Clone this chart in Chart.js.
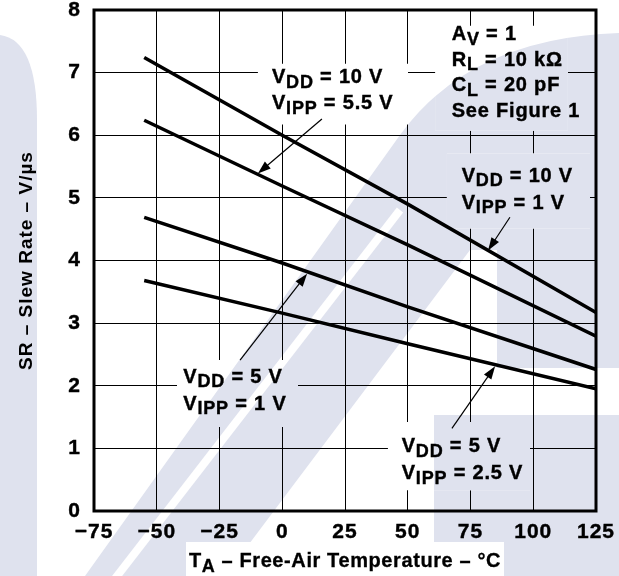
<!DOCTYPE html>
<html>
<head>
<meta charset="utf-8">
<script src="https://cdn.jsdelivr.net/npm/chart.js@4.4.1/dist/chart.umd.min.js"></script>
<style>
  html, body { margin: 0; padding: 0; background: #fff; }
  canvas { display: block; }
</style>
</head>
<body>
<canvas id="slewChart" width="619" height="576"></canvas>
<script>
// free-air temperature, degC
const temps = [-55, 0, 50, 125];
// slew rate, V/us, one array per test condition
const vdd10Vipp1 = [7.24, 6.00, 4.90, 3.17];
const vdd10Vipp55 = [6.24, 5.19, 4.25, 2.79];
const vdd5Vipp1 = [4.69, 3.96, 3.26, 2.26];
const vdd5Vipp25 = [3.68, 3.16, 2.67, 1.95];

const xTicks = [-75, -50, -25, 0, 25, 50, 75, 100, 125];
const yTicks = [0, 1, 2, 3, 4, 5, 6, 7, 8];

const FONT = 'Arial, "Liberation Sans", Helvetica, sans-serif';
const WASH = '#dfe2ee';

// callouts, placed in data units (temperature, slew rate)
const callouts = [
  { at: [-4.1, 6.83], box: [-9.7, 7.14, 50.1, 6.17], gap: 26,
    lines: [[['V'], ['DD', 1], [' = 10 V']], [['V'], ['IPP', 1], [' = 5.5 V']]],
    arrow: [15.8, 6.26, -9.7, 5.39] },
  { at: [67.5, 7.52], box: [60.9, 7.75, 113.8, 6.07], gap: 25.5,
    lines: [[['A'], ['V', 1], [' = 1']], [['R'], ['L', 1], [' = 10 kΩ']],
            [['C'], ['L', 1], [' = 20 pF']], [['See Figure 1']]] },
  { at: [71.5, 5.26], box: [65.6, 5.71, 122.6, 4.51], gap: 27,
    lines: [[['V'], ['DD', 1], [' = 10 V']], [['V'], ['IPP', 1], [' = 1 V']]],
    arrow: [90.7, 4.69, 82.0, 4.16] },
  { at: [-39.4, 2.05], box: [-41.9, 2.41, 6.3, 1.34], gap: 27,
    lines: [[['V'], ['DD', 1], [' = 5 V']], [['V'], ['IPP', 1], [' = 1 V']]],
    arrow: [-16.8, 2.41, 9.9, 3.79] },
  { at: [47.6, 0.935], box: [42.1, 1.42, 98.7, 0.33], gap: 27,
    lines: [[['V'], ['DD', 1], [' = 5 V']], [['V'], ['IPP', 1], [' = 2.5 V']]],
    arrow: [67.6, 1.32, 84.8, 2.31] }
];

function paintBackdrop(ctx) {
  ctx.save();
  ctx.fillStyle = '#fff';
  ctx.fillRect(0, 0, 619, 576);
  ctx.fillStyle = WASH;
  ctx.beginPath();
  ctx.moveTo(0, 576);
  ctx.lineTo(0, 35);
  ctx.quadraticCurveTo(37, 40, 37, 120);
  ctx.lineTo(37, 576);
  ctx.closePath();
  ctx.fill();
  ctx.beginPath();
  ctx.moveTo(85, 576);
  ctx.lineTo(400, 135);
  ctx.quadraticCurveTo(470, 38, 619, 33);
  ctx.lineTo(619, 368);
  ctx.lineTo(497, 368);
  ctx.lineTo(497, 250);
  ctx.lineTo(470, 250);
  ctx.lineTo(225, 576);
  ctx.closePath();
  ctx.fill();
  ctx.fillRect(434, 415, 185, 161);
  ctx.strokeStyle = '#fff';
  ctx.lineWidth = 8;
  ctx.beginPath();
  ctx.moveTo(114, 580);
  ctx.lineTo(400, 210);
  ctx.stroke();
  ctx.fillStyle = '#fff';
  ctx.fillRect(186, 542, 318, 34);
  ctx.restore();
}

function drawRich(ctx, runs, x, y, big, small, drop) {
  let cx = x;
  runs.forEach(([text, sub]) => {
    ctx.font = 'bold ' + (sub ? small : big) + 'px ' + FONT;
    ctx.fillText(text, cx, sub ? y + drop : y);
    ctx.strokeText(text, cx, sub ? y + drop : y);
    cx += ctx.measureText(text).width;
  });
  return cx - x;
}

function drawArrow(ctx, x0, y0, x1, y1) {
  const a = Math.atan2(y1 - y0, x1 - x0);
  const c = Math.cos(a), s = Math.sin(a);
  const len = 13, half = 4.5;
  ctx.lineWidth = 1.2;
  ctx.beginPath();
  ctx.moveTo(x0, y0);
  ctx.lineTo(x1 - c * len * 0.8, y1 - s * len * 0.8);
  ctx.stroke();
  ctx.beginPath();
  ctx.moveTo(x1, y1);
  ctx.lineTo(x1 - c * len + s * half, y1 - s * len - c * half);
  ctx.lineTo(x1 - c * len - s * half, y1 - s * len + c * half);
  ctx.closePath();
  ctx.fill();
}

const decor = {
  id: 'decor',
  beforeDraw(chart) {
    paintBackdrop(chart.ctx);
    // the original lettering runs wide
    chart.ctx.letterSpacing = '1px';
  },
  beforeDatasetsDraw(chart) {
    // open the grid behind each callout
    const { ctx, scales: { x, y } } = chart;
    callouts.forEach(c => {
      const x0 = x.getPixelForValue(c.box[0]), y0 = y.getPixelForValue(c.box[1]);
      const x1 = x.getPixelForValue(c.box[2]), y1 = y.getPixelForValue(c.box[3]);
      ctx.save();
      ctx.beginPath();
      ctx.rect(x0, y0, x1 - x0, y1 - y0);
      ctx.clip();
      paintBackdrop(ctx);
      ctx.restore();
    });
  },
  afterDatasetsDraw(chart) {
    const { ctx, chartArea: area, scales: { x, y } } = chart;
    ctx.save();
    ctx.strokeStyle = '#000';
    ctx.fillStyle = '#000';
    ctx.lineWidth = 3;
    ctx.strokeRect(area.left, area.top, area.right - area.left, area.bottom - area.top);

    ctx.letterSpacing = '0.8px';
    ctx.textBaseline = 'alphabetic';
    ctx.textAlign = 'left';
    callouts.forEach(c => {
      const tx = x.getPixelForValue(c.at[0]);
      const ty = y.getPixelForValue(c.at[1]);
      ctx.lineWidth = 0.4;
      c.lines.forEach((runs, i) => drawRich(ctx, runs, tx, ty + i * c.gap, 20, 18, 4.5));
      if (c.arrow) {
        drawArrow(ctx,
          x.getPixelForValue(c.arrow[0]), y.getPixelForValue(c.arrow[1]),
          x.getPixelForValue(c.arrow[2]), y.getPixelForValue(c.arrow[3]));
      }
    });

    // x axis title with subscript
    ctx.letterSpacing = '0.6px';
    ctx.lineWidth = 0.3;
    const runs = [['T'], ['A', 1], [' – Free-Air Temperature – °C']];
    ctx.globalAlpha = 0;
    const w = drawRich(ctx, runs, 0, -50, 20, 18, 5);
    ctx.globalAlpha = 1;
    drawRich(ctx, runs, (area.left + area.right) / 2 - w / 2, 567, 20, 18, 5);
    ctx.restore();
  }
};

const lineStyle = { borderColor: '#000', borderWidth: 3.5, pointRadius: 0, tension: 0, fill: false, showLine: true };
const toPoints = vals => temps.map((t, i) => ({ x: t, y: vals[i] }));

new Chart(document.getElementById('slewChart'), {
  type: 'scatter',
  data: {
    datasets: [
      { label: 'VDD = 10 V, VIPP = 1 V', data: toPoints(vdd10Vipp1), ...lineStyle },
      { label: 'VDD = 10 V, VIPP = 5.5 V', data: toPoints(vdd10Vipp55), ...lineStyle },
      { label: 'VDD = 5 V, VIPP = 1 V', data: toPoints(vdd5Vipp1), ...lineStyle },
      { label: 'VDD = 5 V, VIPP = 2.5 V', data: toPoints(vdd5Vipp25), ...lineStyle }
    ]
  },
  options: {
    responsive: false,
    animation: false,
    layout: { padding: { left: 0, top: 10, right: 23, bottom: 0 } },
    plugins: { legend: { display: false }, tooltip: { enabled: false } },
    scales: {
      x: {
        type: 'linear',
        min: xTicks[0],
        max: xTicks[xTicks.length - 1],
        afterBuildTicks: s => { s.ticks = xTicks.map(v => ({ value: v })); },
        afterFit: s => { s.height = 65; s.paddingLeft = 0; s.paddingRight = 0; },
        grid: { color: '#000', lineWidth: 1, drawTicks: false },
        border: { display: false },
        ticks: {
          padding: 9,
          color: '#000',
          textStrokeColor: '#000',
          textStrokeWidth: 0.4,
          font: { family: FONT, size: 21, weight: 'bold' },
          callback: v => (v < 0 ? '−' + Math.abs(v) : String(v))
        }
      },
      y: {
        type: 'linear',
        min: yTicks[0],
        max: yTicks[yTicks.length - 1],
        afterBuildTicks: s => { s.ticks = yTicks.map(v => ({ value: v })); },
        afterFit: s => { s.width = 94; s.paddingTop = 0; s.paddingBottom = 0; },
        grid: { color: '#000', lineWidth: 1, drawTicks: false },
        border: { display: false },
        title: {
          display: true,
          text: 'SR – Slew Rate – V/µs',
          color: '#000',
          font: { family: FONT, size: 19, weight: 'bold' },
          padding: { top: 15, bottom: 0 }
        },
        ticks: {
          padding: 13,
          color: '#000',
          textStrokeColor: '#000',
          textStrokeWidth: 0.4,
          font: { family: FONT, size: 21, weight: 'bold' }
        }
      }
    }
  },
  plugins: [decor]
});
</script>
</body>
</html>
